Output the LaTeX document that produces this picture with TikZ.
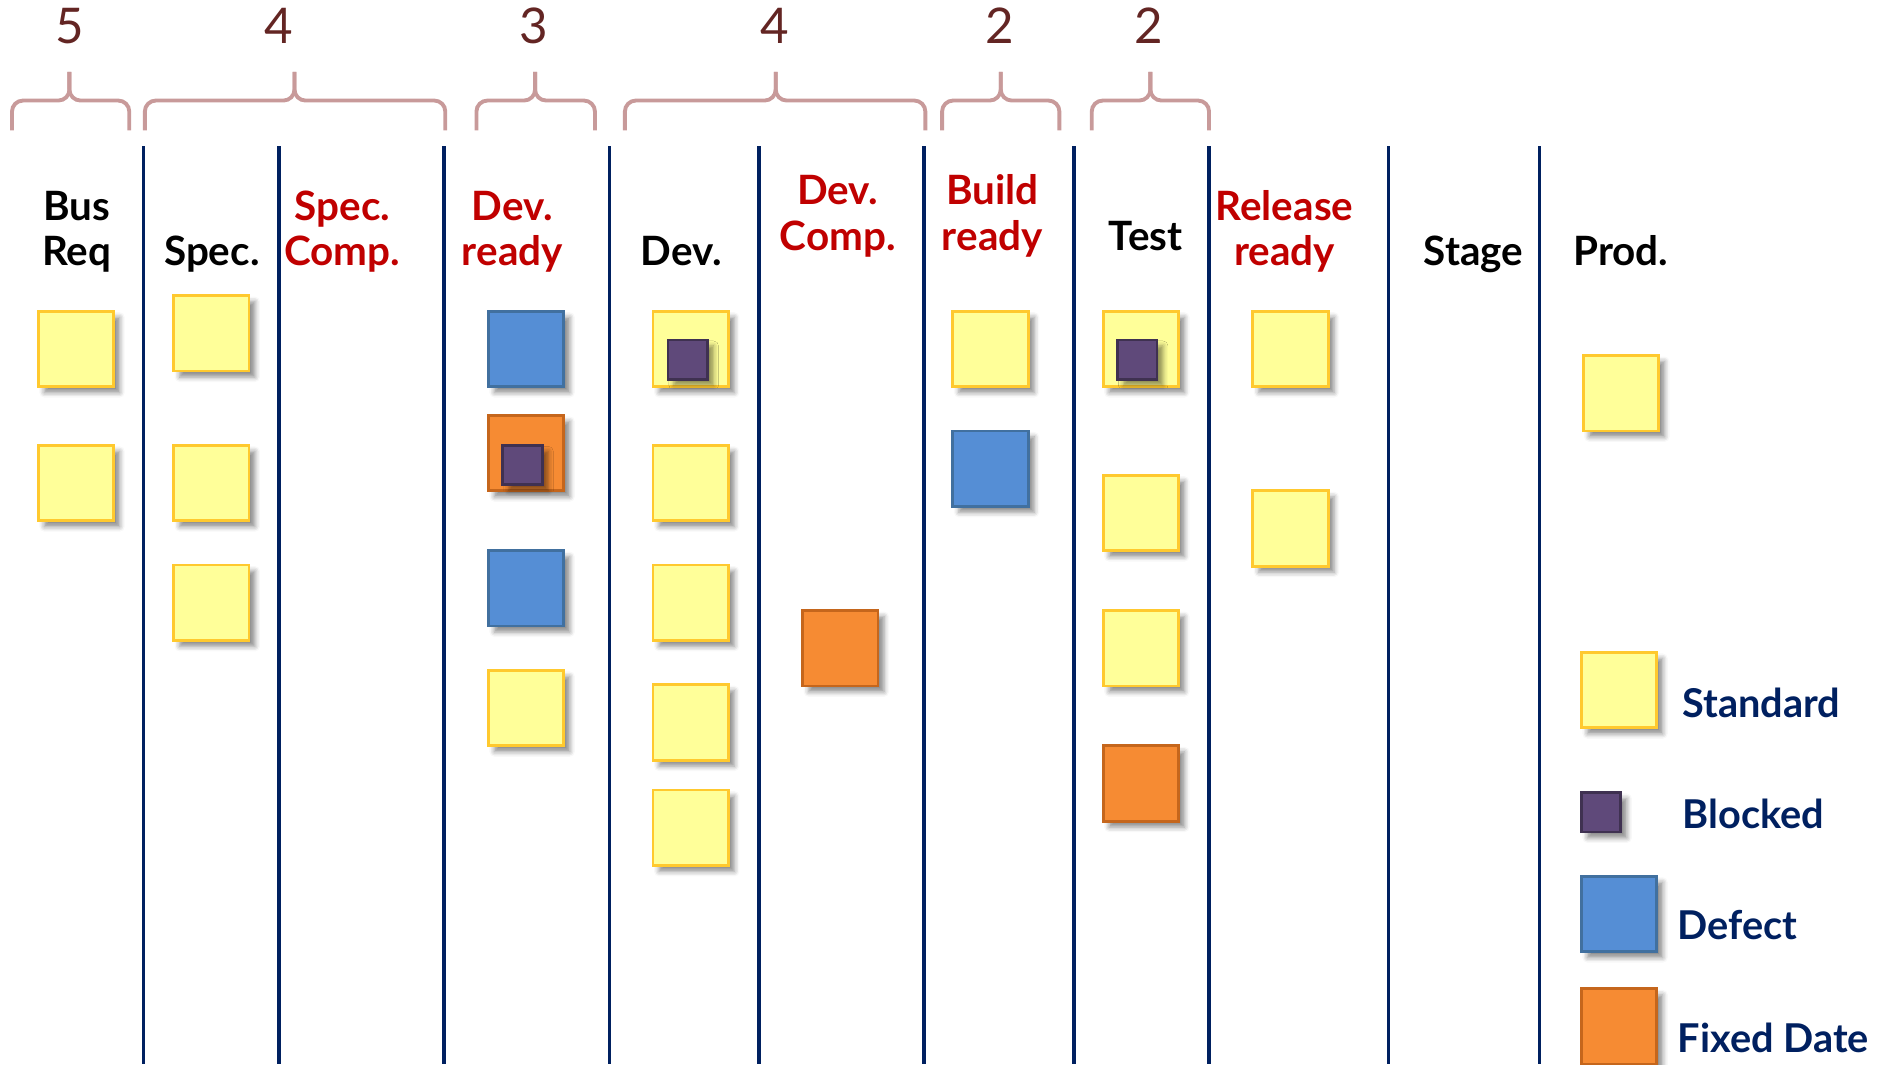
\documentclass[tikz,border=0pt]{standalone}
\usepackage{fontspec}
\setmainfont{Lato}
\usepackage{tikz}
\usetikzlibrary{shadows.blur}

\definecolor{LaneBlue}{HTML}{002060}
\definecolor{QueueRed}{HTML}{C00000}
\definecolor{WipText}{HTML}{632523}
\definecolor{BraceRose}{HTML}{C89A9A}
\definecolor{CardYellow}{HTML}{FFFF99}
\definecolor{CardGold}{HTML}{FFC92E}
\definecolor{DefectBlue}{HTML}{558ED5}
\definecolor{DefectEdge}{HTML}{41709F}
\definecolor{FixedOrange}{HTML}{F68B33}
\definecolor{FixedEdge}{HTML}{C5661C}
\definecolor{BlockPurple}{HTML}{5F497A}
\definecolor{BlockEdge}{HTML}{3F3151}

\begin{document}
\begin{tikzpicture}[x=0.1197mm, y=-0.1197mm]

    % Page size
    \useasboundingbox (0,0) rectangle (1568,889);

    % Column headers
    \tikzset{hdr/.style={anchor=base, align=center, font=\bfseries\fontsize{11.5}{12.9}\selectfont, text=black}}
    \tikzset{qhdr/.style={hdr, text=QueueRed}}

    % WIP limits
    \tikzset{wip/.style={anchor=base, font=\fontsize{14}{16}\selectfont, text=WipText}}
    \tikzset{wipbrace/.style={draw=BraceRose, line width=1.1pt, rounded corners=1.1mm}}

    % Lane separators
    \tikzset{lane/.style={draw=LaneBlue, line width=1pt}}

    % Cards
    \tikzset{card/.style={draw, line width=0.8pt, inner sep=0pt, minimum size=7.54mm,
        blur shadow={shadow xshift=0.6mm, shadow yshift=-0.6mm, shadow blur radius=0.5mm, shadow opacity=45}}}
    \tikzset{stdcard/.style={card, fill=CardYellow, draw=CardGold}}
    \tikzset{defcard/.style={card, fill=DefectBlue, draw=DefectEdge}}
    \tikzset{fixcard/.style={card, fill=FixedOrange, draw=FixedEdge}}
    \tikzset{blkcard/.style={card, minimum size=3.95mm, fill=BlockPurple, draw=BlockEdge}}

    % Legend text
    \tikzset{key/.style={anchor=west, inner sep=0pt, font=\bfseries\fontsize{11.3}{13}\selectfont, text=LaneBlue}}

    % WIP limit braces
    \path[wipbrace] (10,109) -- (10,84) -- (58,84) -- (58,60);
    \path[wipbrace] (108,109) -- (108,84) -- (58,84) -- (58,60);
    	\node (w1) [wip] at (58,36) {5};
    \path[wipbrace] (121,109) -- (121,84) -- (246,84) -- (246,60);
    \path[wipbrace] (372,109) -- (372,84) -- (246,84) -- (246,60);
    	\node (w2) [wip] at (233,36) {4};
    \path[wipbrace] (398,109) -- (398,84) -- (447,84) -- (447,60);
    \path[wipbrace] (497,109) -- (497,84) -- (447,84) -- (447,60);
    	\node (w3) [wip] at (446,36) {3};
    \path[wipbrace] (522,109) -- (522,84) -- (648,84) -- (648,60);
    \path[wipbrace] (773,109) -- (773,84) -- (648,84) -- (648,60);
    	\node (w4) [wip] at (647,36) {4};
    \path[wipbrace] (787,109) -- (787,84) -- (836,84) -- (836,60);
    \path[wipbrace] (885,109) -- (885,84) -- (836,84) -- (836,60);
    	\node (w5) [wip] at (835,36) {2};
    \path[wipbrace] (912,109) -- (912,84) -- (961,84) -- (961,60);
    \path[wipbrace] (1010,109) -- (1010,84) -- (961,84) -- (961,60);
    	\node (w6) [wip] at (960,36) {2};

    % Lane separators
    \path[lane] (120,122) -- (120,889);
    \path[lane] (233,122) -- (233,889);
    \path[lane] (371,122) -- (371,889);
    \path[lane] (509,122) -- (509,889);
    \path[lane] (634,122) -- (634,889);
    \path[lane] (772,122) -- (772,889);
    \path[lane] (897,122) -- (897,889);
    \path[lane] (1010,122) -- (1010,889);
    \path[lane] (1160,122) -- (1160,889);
    \path[lane] (1286,122) -- (1286,889);

    % Headers
    \node (hbus)   [hdr]  at (64,222)   {Bus\\Req};
    \node (hspec)  [hdr]  at (177,222)  {Spec.};
    \node (hspecc) [qhdr] at (286,222)  {Spec.\\Comp.};
    \node (hdevr)  [qhdr] at (428,222)  {Dev.\\ready};
    \node (hdev)   [hdr]  at (569,222)  {Dev.};
    \node (hdevc)  [qhdr] at (700,209)  {Dev.\\Comp.};
    \node (hbld)   [qhdr] at (829,209)  {Build\\ready};
    \node (htest)  [hdr]  at (957,209)  {Test};
    \node (hrel)   [qhdr] at (1073,222) {Release\\ready};
    \node (hstage) [hdr]  at (1231,222) {Stage};
    \node (hprod)  [hdr]  at (1354,222) {Prod.};

    % Bus Req
    \node (br1) [stdcard] at (63.5,291.5) {};
    \node (br2) [stdcard] at (63.5,403.5) {};

    % Spec.
    \node (sp1) [stdcard] at (176.5,278.5) {};
    \node (sp2) [stdcard] at (176.5,403.5) {};
    \node (sp3) [stdcard] at (176.5,503.5) {};

    % Dev. ready
    \node (dr1) [defcard] at (439.5,291.5) {};
    \node (dr2) [fixcard] at (439.5,378.5) {};
    	\node (dr2b) [blkcard] at (436.5,388.5) {};
    \node (dr3) [defcard] at (439.5,491.5) {};
    \node (dr4) [stdcard] at (439.5,591.5) {};

    % Dev.
    \node (dv1) [stdcard] at (577,291.5) {};
    	\node (dv1b) [blkcard] at (574.5,300.5) {};
    \node (dv2) [stdcard] at (577,403.5) {};
    \node (dv3) [stdcard] at (577,503.5) {};
    \node (dv4) [stdcard] at (577,603.5) {};
    \node (dv5) [stdcard] at (577,691.5) {};

    % Dev. Comp.
    \node (dc1) [fixcard] at (702,541.5) {};

    % Build ready
    \node (bd1) [stdcard] at (827.5,291.5) {};
    \node (bd2) [defcard] at (827.5,391.5) {};

    % Test
    \node (ts1) [stdcard] at (953,291.5) {};
    	\node (ts1b) [blkcard] at (950,300.5) {};
    \node (ts2) [stdcard] at (953,428.5) {};
    \node (ts3) [stdcard] at (953,541.5) {};
    \node (ts4) [fixcard] at (953,654.5) {};

    % Release ready
    \node (rl1) [stdcard] at (1078,291.5) {};
    \node (rl2) [stdcard] at (1078,441.5) {};

    % Prod.
    \node (pd1) [stdcard] at (1354,328.5) {};

    % Legend
    \node (kstd) [stdcard] at (1352.5,576.5) {};
    	\node (tstd) [key] at (1405,587) {Standard};
    \node (kblk) [blkcard] at (1337.5,678.5) {};
    	\node (tblk) [key] at (1405,680) {Blocked};
    \node (kdef) [defcard] at (1352.5,763.5) {};
    	\node (tdef) [key] at (1401,773) {Defect};
    \node (kfix) [fixcard] at (1352.5,857.5) {};
    	\node (tfix) [key] at (1401,867) {Fixed Date};

\end{tikzpicture}
\end{document}
